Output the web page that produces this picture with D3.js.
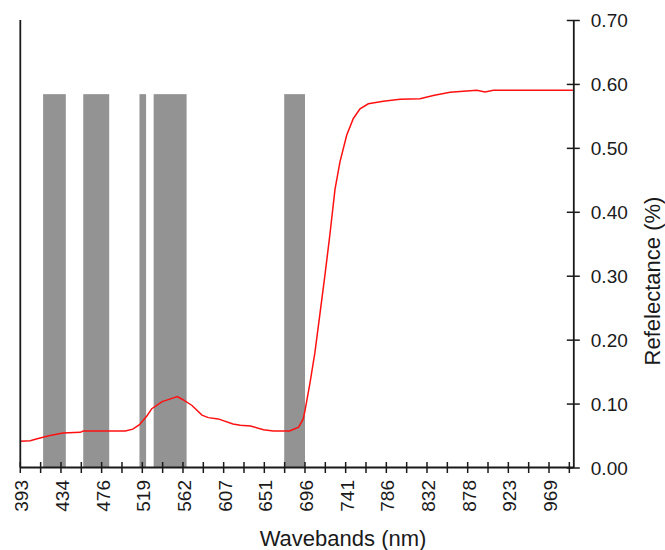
<!DOCTYPE html>
<html>
<head>
<meta charset="utf-8">
<script src="https://cdn.jsdelivr.net/npm/d3@7"></script>
<style>
  html, body { margin: 0; padding: 0; background: #fff; }
  svg { display: block; }
  text { font-family: "Liberation Sans", Arial, sans-serif; fill: #1a1a1a; }
</style>
</head>
<body>
<svg id="chart" width="665" height="550"></svg>
<script>
// ---- data ----
const tickLabels = [393, 434, 476, 519, 562, 607, 651, 696, 741, 786, 832, 878, 923, 969];
const yTicks = [0, 0.1, 0.2, 0.3, 0.4, 0.5, 0.6, 0.7];
const wavelengths = [393, 403, 410, 423, 436, 454, 457, 501, 509, 516, 524, 529, 540, 548, 556, 562,
  572, 583, 590, 601, 617, 625, 636, 650, 661, 679, 689, 694, 696, 701.5, 707, 712.5, 718, 723.7,
  729.2, 734.7, 742.2, 749.5, 756.9, 766.1, 782.7, 801.5, 824.1, 839.1, 858, 876.9, 888.1, 897.2,
  906.4, 993, 996];
const reflectance = [0.041, 0.042, 0.045, 0.050, 0.054, 0.055, 0.057, 0.057, 0.060, 0.067, 0.081, 0.092,
  0.103, 0.107, 0.111, 0.106, 0.097, 0.082, 0.078, 0.076, 0.068, 0.066, 0.065, 0.059, 0.057, 0.057,
  0.063, 0.076, 0.089, 0.132, 0.180, 0.240, 0.300, 0.366, 0.435, 0.478, 0.520, 0.546, 0.561, 0.569,
  0.573, 0.576, 0.577, 0.582, 0.587, 0.589, 0.590, 0.5875, 0.590, 0.590, 0.590];
const bandStart = [416, 457, 516, 531, 673];
const bandEnd   = [439, 484, 523, 566, 696];
const bandHeight = 0.584;

// ---- layout ----
const xLeft = 20.3, step = 40.67, yBottom = 467.5, yTop = 20, xRight = 573.3;
const svg = d3.select("#chart");

// piecewise-linear wavelength scale (labels equally spaced)
const xDomain = tickLabels.concat([tickLabels[tickLabels.length - 1] + 46]);
const x = d3.scaleLinear()
  .domain(xDomain)
  .range(xDomain.map((d, i) => xLeft + i * step));
const y = d3.scaleLinear().domain([0, 0.7]).range([yBottom, yTop]);

// bands
const bands = bandStart.map((s, i) => ({ s, e: bandEnd[i] }));
svg.append("g").selectAll("rect").data(bands).join("rect")
  .attr("x", d => x(d.s))
  .attr("width", d => x(d.e) - x(d.s))
  .attr("y", y(bandHeight))
  .attr("height", y(0) - y(bandHeight))
  .attr("fill", "#939393");

// curve
const pts = wavelengths.map((w, i) => [w, reflectance[i]]);
svg.append("path")
  .datum(pts)
  .attr("fill", "none")
  .attr("stroke", "#ff1010")
  .attr("stroke-width", 1.5)
  .attr("d", d3.line().x(d => x(d[0])).y(d => y(d[1])));

// left axis line
svg.append("line")
  .attr("x1", xLeft).attr("x2", xLeft)
  .attr("y1", yTop).attr("y2", yBottom)
  .attr("stroke", "#1a1a1a").attr("stroke-width", 1.8);

// bottom axis
const minorTicks = xDomain.slice(0, -1).map((d, i) => (d + xDomain[i + 1]) / 2);
const gx = svg.append("g").attr("transform", `translate(0,${yBottom})`);
gx.append("line").attr("x1", xLeft).attr("x2", xRight).attr("y1", 0).attr("y2", 0)
  .attr("stroke", "#1a1a1a").attr("stroke-width", 1.8);
gx.selectAll("line.tk").data(tickLabels.concat(minorTicks)).join("line")
  .attr("class", "tk")
  .attr("x1", d => x(d)).attr("x2", d => x(d))
  .attr("y1", -5.5).attr("y2", 5.5)
  .attr("stroke", "#1a1a1a").attr("stroke-width", 1.5);
gx.selectAll("text").data(tickLabels).join("text")
  .attr("transform", d => `translate(${x(d)},12.5) rotate(-90)`)
  .attr("text-anchor", "end")
  .attr("dy", "0.42em")
  .attr("font-size", 19)
  .text(d => d);

// right axis
const yAxis = d3.axisRight(y).tickValues(yTicks).tickFormat(d3.format(".2f")).tickSize(0);
const gy = svg.append("g").attr("transform", `translate(${xRight},0)`).call(yAxis);
gy.select(".domain").attr("stroke", "#1a1a1a").attr("stroke-width", 1.8);
gy.selectAll(".tick line").attr("x1", -6.5).attr("x2", 6.5)
  .attr("stroke", "#1a1a1a").attr("stroke-width", 1.5);
gy.selectAll(".tick text")
  .attr("x", 17.5).attr("dy", "0.36em")
  .attr("font-size", 19).attr("font-family", "Liberation Sans, Arial, sans-serif")
  .attr("fill", "#1a1a1a");

// titles
svg.append("text")
  .attr("x", 343).attr("y", 546)
  .attr("text-anchor", "middle")
  .attr("font-size", 22)
  .text("Wavebands (nm)");
svg.append("text")
  .attr("transform", "translate(660,281) rotate(-90)")
  .attr("text-anchor", "middle")
  .attr("font-size", 22)
  .text("Refelectance (%)");
</script>
</body>
</html>
